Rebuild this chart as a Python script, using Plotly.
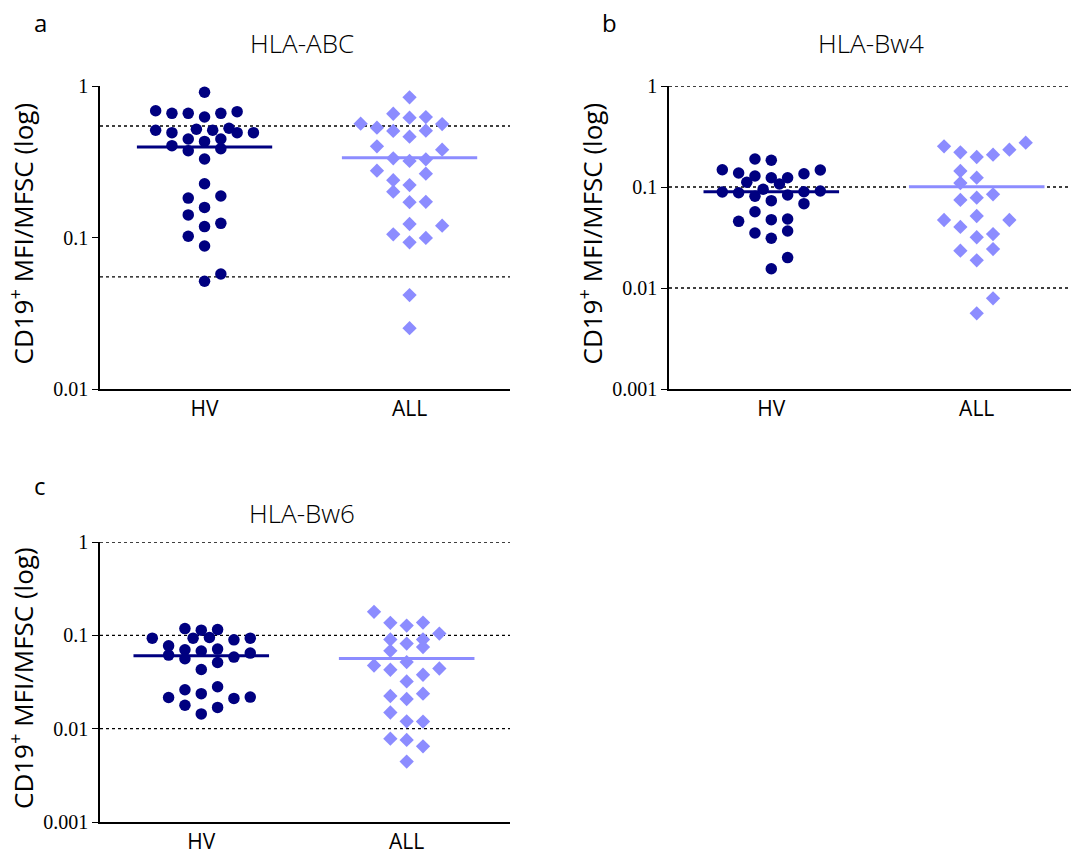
import plotly.graph_objects as go

# ---------------- data ----------------
categories = ["HV", "ALL"]

# Panel a: HLA-ABC
a_hv_vals = [0.91, 0.687, 0.66, 0.66, 0.624, 0.66, 0.677, 0.51, 0.492, 0.518, 0.51, 0.526,
             0.492, 0.492, 0.447, 0.431, 0.447, 0.404, 0.374, 0.386, 0.33, 0.2265, 0.182,
             0.188, 0.158, 0.141, 0.118, 0.124, 0.102, 0.0879, 0.0574, 0.0514]
a_hv_slot = [0, -3, -2, -1, 0, 1, 2, -3, -2, -0.5, 0.5, 1.5, 2, 3, -1, 0, 1, -2, -1, 1,
             0, 0, -1, 1, 0, -1, 0, 1, -1, 0, 1, 0]
a_all_vals = [0.842, 0.656, 0.618, 0.624, 0.564, 0.531, 0.505, 0.463, 0.507, 0.561, 0.40,
              0.38, 0.333, 0.32, 0.328, 0.276, 0.264, 0.239, 0.2006, 0.222, 0.171, 0.172,
              0.1228, 0.1197, 0.105, 0.0929, 0.0993, 0.0417, 0.0252]
a_all_slot = [0, -1, 0, 1, -3, -2, -1, 0, 1, 2, -2, 2, -1, 0, 1, -2, 1, -1, -1, 0, 0, 1,
              0, 2, -1, 0, 1, 0, 0]
a_medians = [0.396, 0.336]
a_refs = [0.545, 0.055]

# Panel b: HLA-Bw4
b_hv_vals = [0.1894, 0.1838, 0.1483, 0.1376, 0.1285, 0.1236, 0.1236, 0.1354, 0.1473,
             0.1113, 0.1071, 0.0949, 0.0892, 0.0878, 0.0809, 0.0833, 0.0898, 0.0913,
             0.0732, 0.0684, 0.0569, 0.0457, 0.0475, 0.0482, 0.035, 0.0367, 0.0311,
             0.02, 0.0155]
b_hv_slot = [-1, 0, -3, -2, -1, 0, 1, 2, 3, -1.5, 0.5, -0.5, -3, -2, -1, 1, 2, 3, 0, 2,
             -1, -2, 0, 1, -1, 1, 0, 1, 0]
b_all_vals = [0.2529, 0.2206, 0.1982, 0.2089, 0.234, 0.2746, 0.144, 0.1236, 0.1095,
              0.0744, 0.0784, 0.0847, 0.0471, 0.0402, 0.0516, 0.0471, 0.0318, 0.0342,
              0.0234, 0.0188, 0.0243, 0.0079, 0.00562]
b_all_slot = [-2, -1, 0, 1, 2, 3, -1, 0, -1, -1, 0, 1, -2, -1, 0, 2, 0, 1, -1, 0, 1, 1, 0]
b_medians = [0.0898, 0.1007]
b_refs = [1, 0.1, 0.01]

# Panel c: HLA-Bw6
c_hv_vals = [0.0933, 0.1182, 0.1137, 0.1153, 0.0933, 0.0947, 0.0895, 0.0933, 0.0772,
             0.0614, 0.07, 0.0561, 0.0678, 0.0712, 0.0512, 0.0585, 0.0645, 0.0431,
             0.0216, 0.0261, 0.0237, 0.0281, 0.0211, 0.0218, 0.0178, 0.0144, 0.0169]
c_hv_slot = [-3, -1, 0, 1, -0.5, 0.5, 2, 3, -2, -2, -1, -1, 0, 1, 1, 2, 3, 0, -2, -1, 0,
             1, 2, 3, -1, 0, 1]
c_all_vals = [0.1784, 0.136, 0.1273, 0.137, 0.1045, 0.0902, 0.0817, 0.0902, 0.0683,
              0.0748, 0.0475, 0.0428, 0.0517, 0.0441, 0.0321, 0.0378, 0.0224, 0.0208,
              0.0237, 0.0149, 0.012, 0.0119, 0.00782, 0.00757, 0.00647, 0.00444]
c_all_slot = [-2, -1, 0, 1, 2, -1, 0, 1, -1, 1, -2, -1, 0, 2, 0, 1, -1, 0, 1, -1, 0, 1,
              -1, 0, 1, 0]
c_medians = [0.0604, 0.0565]
c_refs = [1, 0.1, 0.01]

titles = ["HLA-ABC", "HLA-Bw4", "HLA-Bw6"]
letters = ["a", "b", "c"]
ytitle = "CD19<sup>+</sup> MFI/MFSC (log)"

# ---------------- style ----------------
HV_COLOR = "#000080"
ALL_COLOR = "#8C8CFF"
SLOT_W = 0.0795
MED_HALF = 0.33
W, H = 1071, 854

panels = [
    dict(hv=a_hv_vals, hvs=a_hv_slot, al=a_all_vals, als=a_all_slot, med=a_medians,
         refs=a_refs, xdom=[100, 510], ydom=[86, 389], xr=[-0.51, 1.49],
         yr=[-2, 0], ticks=[1, 0.1, 0.01], ticktext=["1", "0.1", "0.01"]),
    dict(hv=b_hv_vals, hvs=b_hv_slot, al=b_all_vals, als=b_all_slot, med=b_medians,
         refs=b_refs, xdom=[669, 1071], ydom=[86, 389], xr=[-0.498, 1.459],
         yr=[-3, 0], ticks=[1, 0.1, 0.01, 0.001], ticktext=["1", "0.1", "0.01", "0.001"]),
    dict(hv=c_hv_vals, hvs=c_hv_slot, al=c_all_vals, als=c_all_slot, med=c_medians,
         refs=c_refs, xdom=[100, 510], ydom=[542, 822], xr=[-0.493, 1.503],
         yr=[-3, 0], ticks=[1, 0.1, 0.01, 0.001], ticktext=["1", "0.1", "0.01", "0.001"]),
]

fig = go.Figure()
shapes = []
annotations = []
layout = {}

for i, p in enumerate(panels):
    n = "" if i == 0 else str(i + 1)
    xa, ya = "x" + n, "y" + n
    fig.add_trace(go.Scatter(
        x=[0 + s * SLOT_W for s in p["hvs"]], y=p["hv"], mode="markers",
        xaxis=xa, yaxis=ya, showlegend=False,
        marker=dict(symbol="circle", size=11.5, color=HV_COLOR, line=dict(width=0))))
    fig.add_trace(go.Scatter(
        x=[1 + s * SLOT_W for s in p["als"]], y=p["al"], mode="markers",
        xaxis=xa, yaxis=ya, showlegend=False,
        marker=dict(symbol="diamond", size=11, color=ALL_COLOR, line=dict(width=0))))
    for r in p["refs"]:
        shapes.append(dict(type="line", xref=xa + " domain", yref=ya, x0=0, x1=1,
                           y0=r, y1=r, layer="below",
                           line=dict(color="black", width=1.4, dash="3px,3px")))
    for ci, (m, col) in enumerate(zip(p["med"], [HV_COLOR, ALL_COLOR])):
        shapes.append(dict(type="line", xref=xa, yref=ya, x0=ci - MED_HALF,
                           x1=ci + MED_HALF, y0=m, y1=m, layer="above",
                           line=dict(color=col, width=3)))
    xd = [p["xdom"][0] / W, p["xdom"][1] / W]
    yd = [1 - p["ydom"][1] / H, 1 - p["ydom"][0] / H]
    layout["xaxis" + n] = dict(
        domain=xd, range=p["xr"], anchor=ya, tickvals=[0, 1], ticktext=categories,
        showgrid=False, zeroline=False, showline=True, linecolor="black", linewidth=1.5,
        ticks="", automargin=False,
        tickfont=dict(family="Open Sans", size=21, color="black"),
        fixedrange=True)
    layout["yaxis" + n] = dict(
        domain=yd, type="log", range=p["yr"], anchor=xa, tickvals=p["ticks"],
        ticktext=p["ticktext"], showgrid=False, zeroline=False, showline=True,
        linecolor="black", linewidth=1.5, ticks="outside", ticklen=6, tickwidth=1.3,
        tickcolor="black", automargin=False,
        tickfont=dict(family="Liberation Serif", size=20, color="black"))
    annotations.append(dict(text=titles[i], x=(p["xdom"][0] + 202) / W,
                            y=1 - (43 if i < 2 else 513) / H,
                            xref="paper", yref="paper", showarrow=False,
                            xanchor="center", yanchor="middle",
                            font=dict(family="Open Sans", size=26, color="black",
                                      weight=300)))
    annotations.append(dict(text=letters[i], x=(p["xdom"][0] - 60) / W,
                            y=1 - (22 if i < 2 else 486) / H,
                            xref="paper", yref="paper", showarrow=False,
                            xanchor="center", yanchor="middle",
                            font=dict(family="Open Sans", size=24, color="black")))
    annotations.append(dict(text=ytitle, textangle=-90,
                            x=(p["xdom"][0] - 78) / W,
                            y=1 - ((p["ydom"][0] + p["ydom"][1]) / 2 - 4) / H,
                            xref="paper", yref="paper", showarrow=False,
                            xanchor="center", yanchor="middle",
                            font=dict(family="Open Sans", size=26, color="black")))

fig.update_layout(
    width=W, height=H, margin=dict(l=0, r=0, t=0, b=0, pad=0, autoexpand=False),
    paper_bgcolor="white", plot_bgcolor="white",
    shapes=shapes, annotations=annotations, **layout)

fig.write_html("out.html")
